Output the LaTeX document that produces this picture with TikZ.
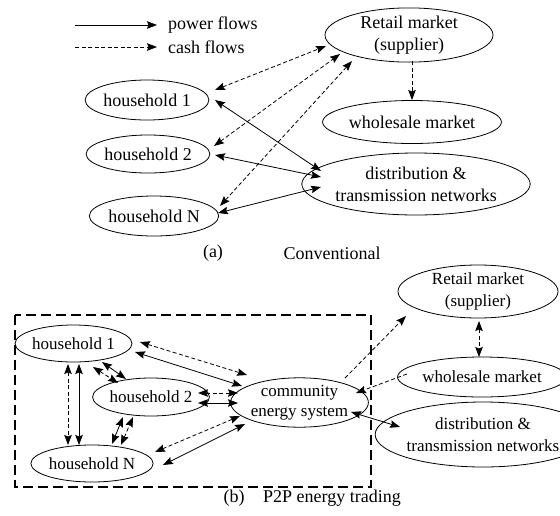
\documentclass[tikz,border=0pt]{standalone}
\usepackage{fontspec}
\setmainfont{Liberation Serif}
\usetikzlibrary{shapes.geometric,arrows.meta,calc}
\tikzset{
  ent/.style={draw, ellipse, inner sep=0pt, line width=0.8pt, align=center,
              font=\fontsize{18}{22}\selectfont},
  entb/.style={ent, font=\fontsize{17}{21.5}\selectfont},
  lbl/.style={inner sep=0pt, font=\fontsize{18}{22}\selectfont},
  tip/.style={line width=0.8pt, -{Stealth[length=10pt,width=7.5pt,inset=1.5pt]}},
  both/.style={line width=0.8pt, {Stealth[length=10pt,width=7.5pt,inset=1.5pt]}-{Stealth[length=10pt,width=7.5pt,inset=1.5pt]}},
  power/.style={solid},
  cash/.style={dash pattern=on 4pt off 2.5pt},
  frame/.style={line width=1.1pt, dash pattern=on 10pt off 5pt}
}
\begin{document}
\begin{tikzpicture}[x=1pt,y=-1pt]
\useasboundingbox (0,0) rectangle (560,515);

% legend
\coordinate (lp0) at (75,25);  \coordinate (lp1) at (157,25);
\coordinate (lc0) at (75,47);  \coordinate (lc1) at (157,47);
\draw[tip,power] (lp0) -- (lp1);
\draw[tip,cash] (lc0) -- (lc1);
\node[lbl,anchor=west] (lgp) at (168,25) {power flows};
\node[lbl,anchor=west] (lgc) at (168,47) {cash flows};

% (a) conventional arrangement
\node[ent,minimum width=122pt,minimum height=40pt] (a1) at (147,100) {household 1};
\node[ent,minimum width=120pt,minimum height=38pt] (a2) at (148,154) {household 2};
\node[ent,minimum width=122pt,minimum height=40pt] (aN) at (154,216) {household N};
\node[ent,minimum width=168pt,minimum height=54pt] (aR) at (409,35) {Retail market\\(supplier)};
\node[ent,minimum width=161pt,minimum height=43pt] (aW) at (412,122) {wholesale market};
\node[ent,minimum width=185pt,minimum height=62pt] (aD) at (416,184) {distribution \&\\transmission networks};

\draw[both,cash] ($(a1)+(68,-10)$) -- ($(aR)+(-83,11)$);
\draw[both,cash] ($(a2)+(66,-8)$) -- ($(aR)+(-69,19)$);
\draw[both,cash] ($(aN)+(66,-10)$) -- ($(aR)+(-57,26)$);
\draw[both,power] ($(a1)+(68,0)$) -- ($(aD)+(-95,-13)$);
\draw[both,power] ($(a2)+(67,1)$) -- ($(aD)+(-95,-7)$);
\draw[both,power] ($(aN)+(64,-3)$) -- ($(aD)+(-95,3)$);
\draw[tip,cash] ($(aR)+(3,26)$) -- ($(aW)+(0,-22)$);

\node[lbl] (capa) at (213,253) {(a)};
\node[lbl] (capat) at (332,253) {Conventional};

% (b) peer-to-peer arrangement
\node[entb,minimum width=113pt,minimum height=37pt] (b1) at (73.5,343.5) {household 1};
\node[entb,minimum width=92pt,minimum height=38pt] (b2) at (151,397) {household 2};
\node[entb,minimum width=112pt,minimum height=37pt] (bN) at (92,463.5) {household N};
\node[entb,minimum width=115pt,minimum height=49pt,font=\fontsize{17}{20}\selectfont] (bC) at (299.5,402.5) {community\\energy system};
\node[entb,minimum width=160pt,minimum height=53pt] (bR) at (478,291.5) {Retail market\\(supplier)};
\node[entb,minimum width=150pt,minimum height=40pt] (bW) at (482,377) {wholesale market};
\node[entb,minimum width=170pt,minimum height=65pt] (bD) at (483,434.5) {distribution \&\\transmission networks};

\draw[frame] (15,315) rectangle (371,487);

\draw[both,cash]  ($(b1)+(66.5,-1.5)$) -- ($(bC)+(-52.5,-27.5)$);
\draw[both,power] ($(b1)+(61.5,8.5)$) -- ($(bC)+(-57.5,-16.5)$);
\draw[both,cash]  ($(b2)+(47,-4)$) -- ($(bC)+(-61.5,-9.5)$);
\draw[both,power] ($(b2)+(47,6)$) -- ($(bC)+(-61.5,0.5)$);
\draw[both,cash]  ($(bN)+(63,-11.5)$) -- ($(bC)+(-59.5,13.5)$);
\draw[both,power] ($(bN)+(71,1.5)$) -- ($(bC)+(-54.5,21.5)$);
\draw[both,cash]  ($(b1)+(19.5,23.5)$) -- ($(b2)+(-33,-14)$);
\draw[both,power] ($(b1)+(28.5,18.5)$) -- ($(b2)+(-25,-18)$);
\draw[both,cash]  ($(b1)+(-5.5,20.5)$) -- ($(bN)+(-24,-18.5)$);
\draw[both,power] ($(b1)+(5.5,20.5)$) -- ($(bN)+(-13,-18.5)$);
\draw[both,power] ($(bN)+(20,-19.5)$) -- ($(b2)+(-28,20)$);
\draw[both,cash]  ($(bN)+(29,-18.5)$) -- ($(b2)+(-18,20)$);
\draw[tip,cash]   ($(bC)+(45.5,-24.5)$) -- ($(bR)+(-72,24.5)$);
\draw[tip,cash]   ($(bW)+(-75,-3)$) -- ($(bC)+(56.5,-9.5)$);
\draw[both,cash]  ($(bR)+(1,29.5)$) -- ($(bW)+(-3,-20)$);
\draw[both,power] ($(bC)+(51.5,9.5)$) -- ($(bD)+(-83,-7.5)$);

\node[lbl] (capb) at (234,498) {(b)};
\node[lbl] (capbt) at (332,498) {P2P energy trading};
\end{tikzpicture}
\end{document}
